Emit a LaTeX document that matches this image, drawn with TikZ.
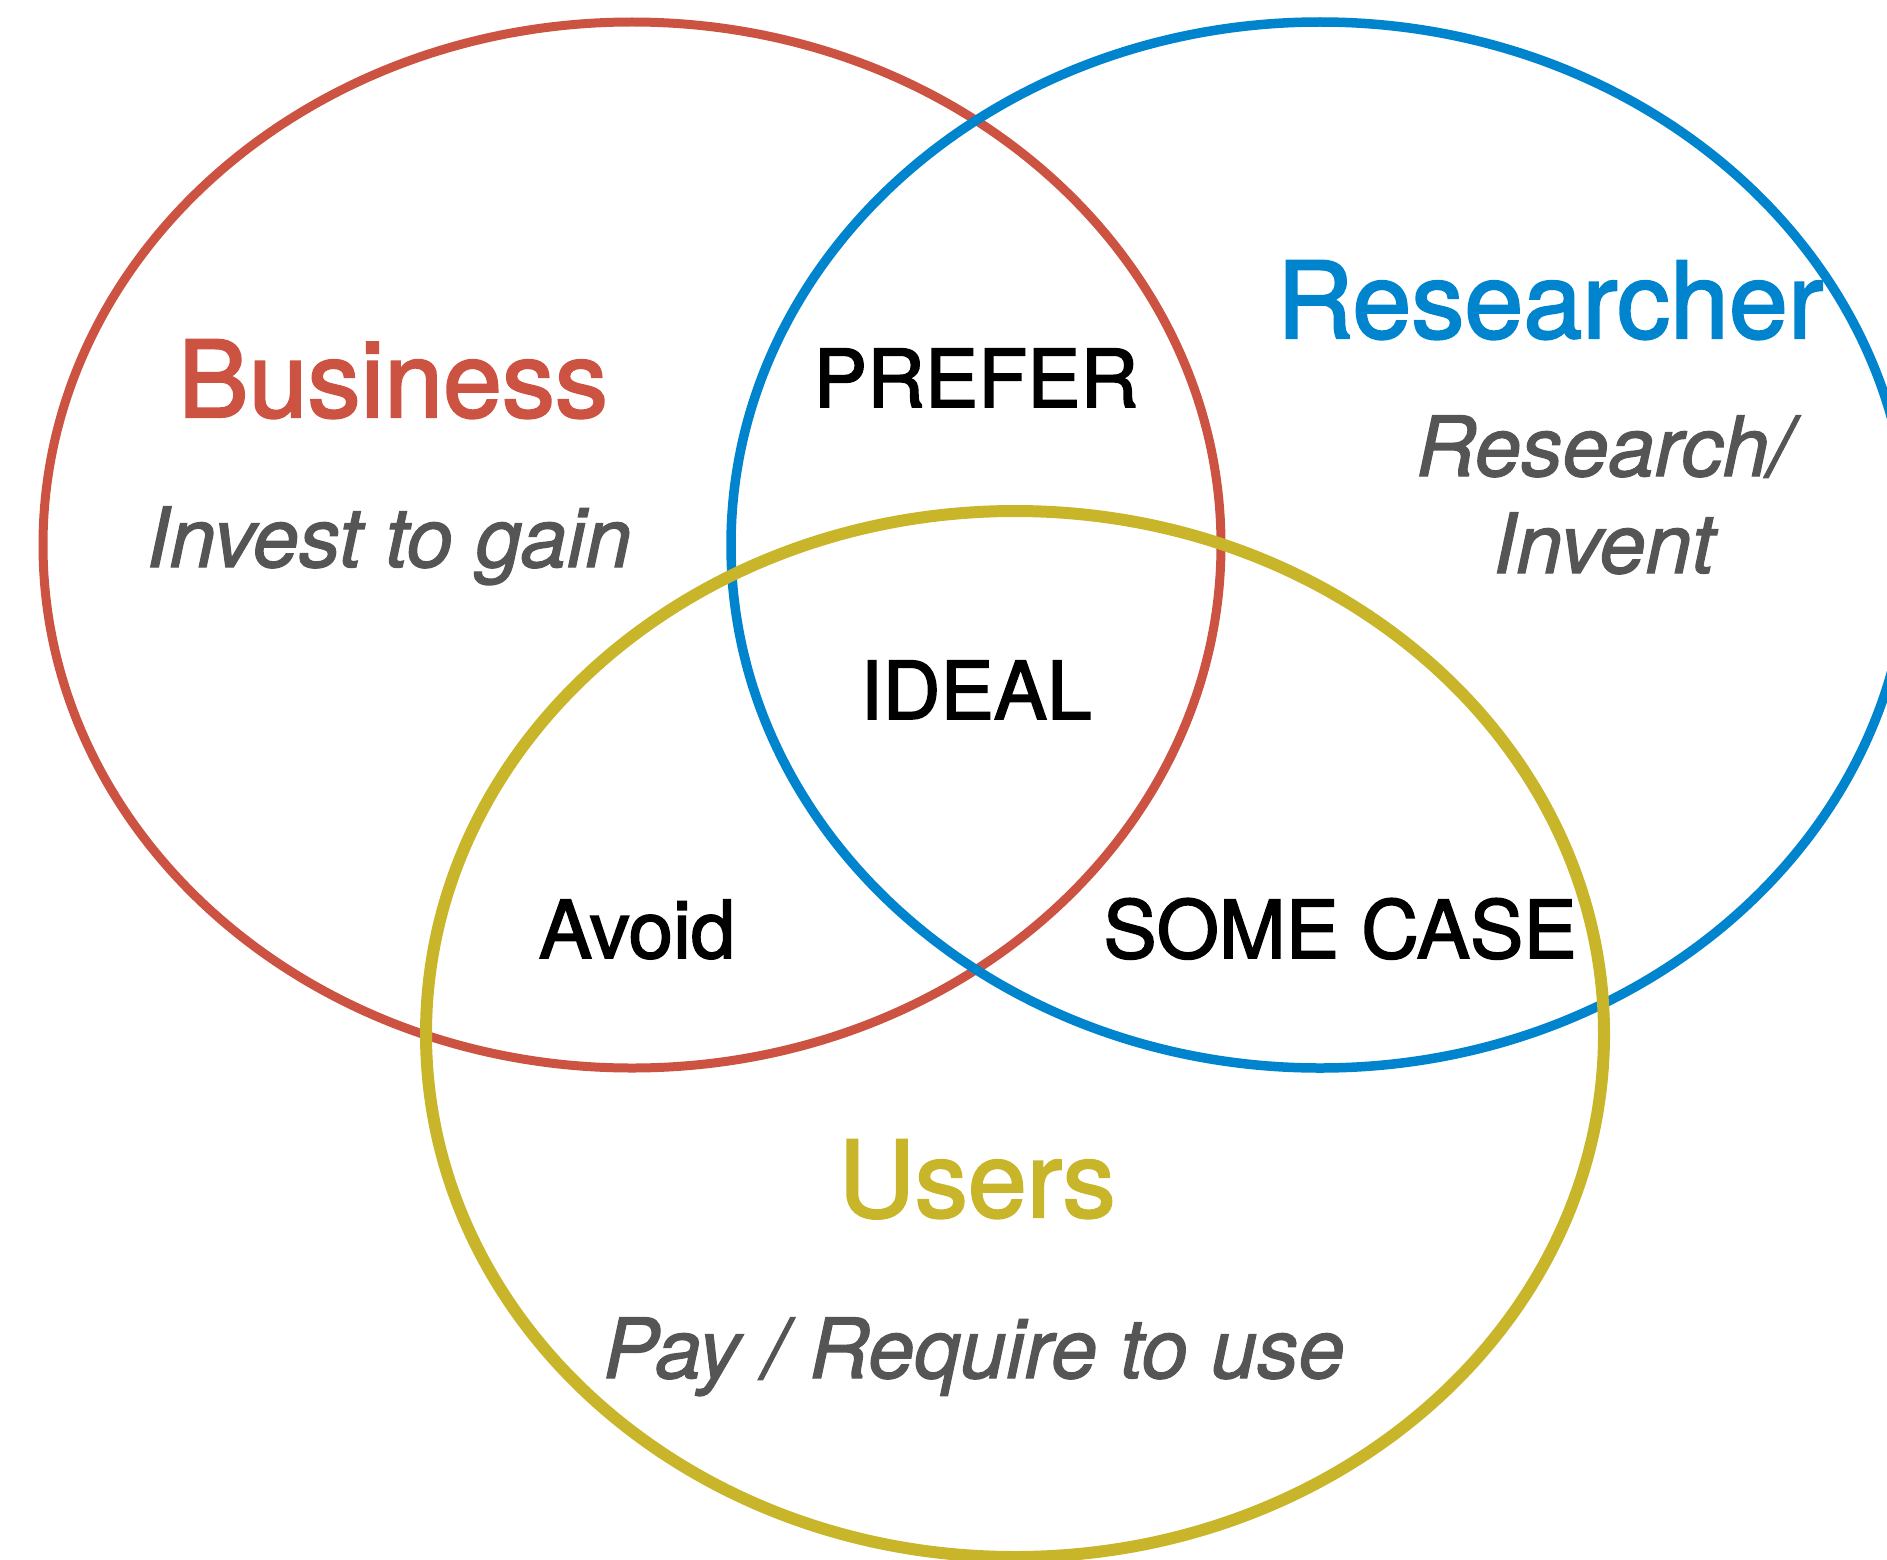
\documentclass[tikz,border=0pt]{standalone}
\usepackage{fontspec}
\setmainfont{TeX Gyre Heros}
\newfontfamily\labelfont{TeX Gyre Heros}[FakeBold=2]
\newfontfamily\notefont{TeX Gyre Heros}[FakeBold=1.5]
\usetikzlibrary{positioning}
\definecolor{bizred}{HTML}{CC5241}
\definecolor{resblue}{HTML}{0084CE}
\definecolor{useryellow}{HTML}{C8B529}
\definecolor{notegray}{HTML}{555555}

\begin{document}
\begin{tikzpicture}[
x=1pt, y=-1pt,
set/.style={
  line width=9pt,
  x radius=589,
  y radius=523
  },
title/.style={
  anchor=base,
  inner sep=0pt,
  font=\labelfont\fontsize{106}{110}\selectfont
  },
role/.style={
  anchor=base,
  inner sep=0pt,
  text=notegray,
  font=\notefont\fontsize{83}{96}\selectfont\itshape
  },
zone/.style={
  anchor=base,
  inner sep=0pt,
  font=\labelfont\fontsize{80}{96}\selectfont
  }
]
\useasboundingbox (0,0) rectangle (1887,1560);
\clip (0,0) rectangle (1887,1560);

% the three sets
\draw[set, bizred] (632,545) ellipse [];
\draw[set, resblue, line width=9.5pt] (1320,545) ellipse [];
\draw[set, useryellow, line width=12pt] (1015,1034) ellipse [];

% names and roles
\node[title, text=bizred] (business) at (393,417) {Business};
\node[role] (invest) at (389,567) {Invest to gain};

\node[title, text=resblue] (researcher) at (1550,338) {Researcher};
\node[role] (research) at (1604,476) {Research/};
\node[role] (invent) at ([yshift=-97pt]research.base) {Invent};

\node[title, text=useryellow] (users) at (977,1217) {Users};
\node[role] (pay) at (974,1378) {Pay / Require to use};

% overlaps
\node[zone] (prefer) at (976,407) {PREFER};
\node[zone] (ideal) at (976,719) {IDEAL};
\node[zone] (avoid) at (637,958) {Avoid};
\node[zone] (somecase) at (1340,958) {SOME CASE};

\end{tikzpicture}
\end{document}
